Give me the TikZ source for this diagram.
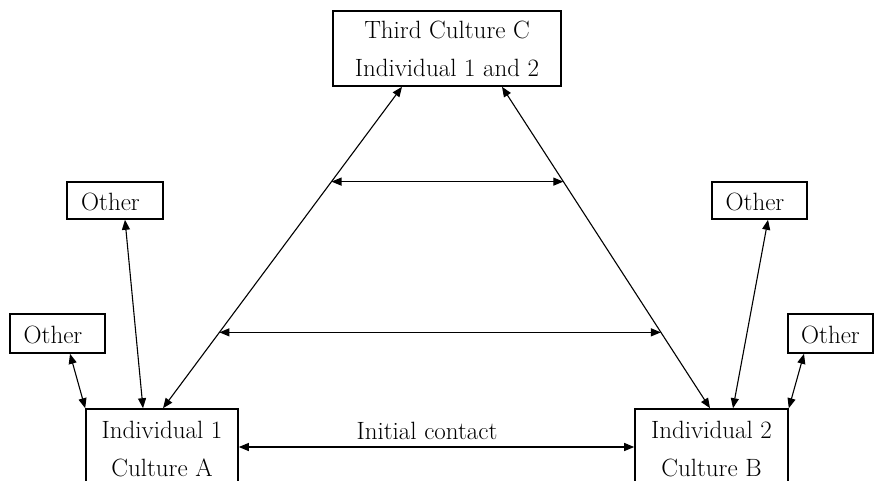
\documentclass[tikz,border=0pt]{standalone}
\usetikzlibrary{arrows.meta,calc}
\begin{document}
\begin{tikzpicture}[x=1pt,y=-1pt,
  box/.style={draw, line width=1.6pt, inner sep=0pt, align=center,
    font=\fontsize{25}{38}\selectfont},
  obox/.style={draw, line width=1.6pt, inner sep=0pt,
    font=\fontsize{25}{30}\selectfont},
  tip/.tip={Triangle[length=10pt,width=8pt]},
  link/.style={line width=1.1pt, tip-tip},
  tag/.style={font=\fontsize{25}{30}\selectfont, inner sep=0pt}]
\useasboundingbox (0,0) rectangle (875,480);
\clip (0,0) rectangle (875,480);

% main boxes
\node[box, minimum width=228pt, minimum height=75pt] (third) at (447,48.5)
  {Third Culture C\\Individual 1 and 2};
\node[box, minimum width=152pt, minimum height=84pt] (indA) at (162,451)
  {Individual 1\\Culture A\rule[-4pt]{0pt}{4pt}};
\node[box, minimum width=153pt, minimum height=84pt] (indB) at (711.5,451)
  {Individual 2\\Culture B\rule[-4pt]{0pt}{4pt}};

% the four "Other" boxes
\newcommand\othertext[1]{\rule{0pt}{21pt}Other\kern#1}
\node[obox, minimum width=96pt, minimum height=37pt] (otherAU) at (115,200.5) {\othertext{9pt}};
\node[obox, minimum width=95pt, minimum height=39pt] (otherAL) at (57.5,333.5) {\othertext{9pt}};
\node[obox, minimum width=95pt, minimum height=37pt] (otherBU) at (759.5,200.5) {\othertext{9pt}};
\node[obox, minimum width=85pt, minimum height=39pt] (otherBL) at (830.5,333.5) {\othertext{0pt}};

% ends of the two sides of the triangle
\coordinate (dA)  at ([xshift=1pt]indA.north);
\coordinate (dC1) at ([xshift=-45pt]third.south);
\coordinate (dC2) at ([xshift=55pt]third.south);
\coordinate (dB)  at ([xshift=-1.5pt]indB.north);

\draw[link] (dA) -- (dC1);
\draw[link] (dC2) -- (dB);

% crossings between the two sides
\coordinate (h1l) at ($(dA)!0.705!(dC1)$);
\coordinate (h1r) at ($(dB)!0.705!(dC2)$);
\coordinate (h2l) at ($(dA)!0.236!(dC1)$);
\coordinate (h2r) at ($(dB)!0.236!(dC2)$);
\draw[link] (h1l) -- (h1r);
\draw[link] (h2l) -- (h2r);

% initial contact
\draw[link] ([yshift=4pt]indA.east) -- ([yshift=4pt]indB.west)
  node[tag, midway, above=7pt, xshift=-9.5pt] (contact) {Initial contact};

% links to the other boxes
\draw[link] ([xshift=12.5pt]otherAL.south) -- (indA.north west);
\draw[link] ([xshift=10pt]otherAU.south) -- ([xshift=-19pt]indA.north);
\draw[link] ([xshift=8.5pt]otherBU.south) -- ([xshift=21.5pt]indB.north);
\draw[link] ([xshift=-26.5pt]otherBL.south) -- (indB.north east);
\end{tikzpicture}
\end{document}
